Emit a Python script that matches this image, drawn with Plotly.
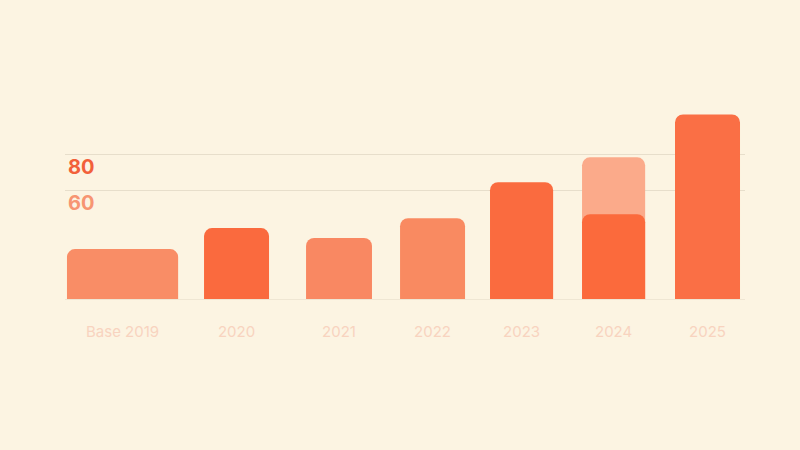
import plotly.graph_objects as go

# Data
categories = [0, 1, 2, 3, 4, 5, 6]
tick_labels = ["Base 2019", "2020", "2021", "2022", "2023", "2024", "2025"]
values = [27.6, 39.2, 33.7, 44.7, 64.6, 46.9, 102.0]
target_values = [None, None, None, None, None, 78.3, None]

# Styles
bar_colors = ["#F98D66", "#FA6A3E", "#F98862", "#F98A61", "#FA6B3F", "#FB6A3C", "#FA6F45"]
bar_widths = [1.18, 0.69, 0.70, 0.69, 0.67, 0.67, 0.69]
bar_offsets = [-0.80, -0.345, -0.262, -0.264, -0.309, -0.332, -0.345]
tick_pos = [c + o + w / 2 for c, o, w in zip(categories, bar_offsets, bar_widths)]

fig = go.Figure()

# Lighter "target" bar sits behind the actual value
fig.add_trace(
    go.Bar(
        x=categories,
        y=target_values,
        width=bar_widths,
        offset=bar_offsets,
        marker=dict(color="#FBAA8A", line=dict(width=0), cornerradius=8),
        hoverinfo="skip",
    )
)

# Actual values on an overlaid x axis so every bar keeps its own rounded top
fig.add_trace(
    go.Bar(
        x=categories,
        y=values,
        width=bar_widths,
        offset=bar_offsets,
        marker=dict(color=bar_colors, line=dict(width=0), cornerradius=8),
        xaxis="x2",
    )
)

fig.update_layout(
    width=800,
    height=450,
    barmode="overlay",
    showlegend=False,
    paper_bgcolor="#FCF4E2",
    plot_bgcolor="#FCF4E2",
    margin=dict(l=0, r=0, t=100, b=151),
    font=dict(family="Inter, sans-serif"),
    xaxis2=dict(
        overlaying="x",
        matches="x",
        domain=[0.08125, 0.93125],
        visible=False,
        showgrid=False,
        zeroline=False,
    ),
)

fig.update_layout(
    xaxis=dict(
        domain=[0.08125, 0.93125],
        range=[-0.821, 6.398],
        tickvals=tick_pos,
        ticktext=tick_labels,
        tickfont=dict(size=15, color="#F8D3BF"),
        ticklabelstandoff=22,
        showgrid=False,
        zeroline=False,
        showline=False,
        ticks="",
    )
)

fig.update_yaxes(
    range=[0, 110],
    tickvals=[60, 80],
    ticktext=[
        "<span style='color:#F79572'><b>60</b></span>",
        "<span style='color:#F2603A'><b>80</b></span>",
    ],
    tickfont=dict(size=20),
    ticklabelposition="inside",
    ticklabelshift=13,
    showgrid=True,
    gridcolor="#E7DECB",
    gridwidth=1,
    zeroline=True,
    zerolinecolor="#EFE6D3",
    zerolinewidth=1,
    showline=False,
    ticks="",
)

fig.write_html(
    "out.html",
    config={"displayModeBar": False},
    post_script="document.body.style.margin='0';document.body.style.background='#FCF4E2';",
)
